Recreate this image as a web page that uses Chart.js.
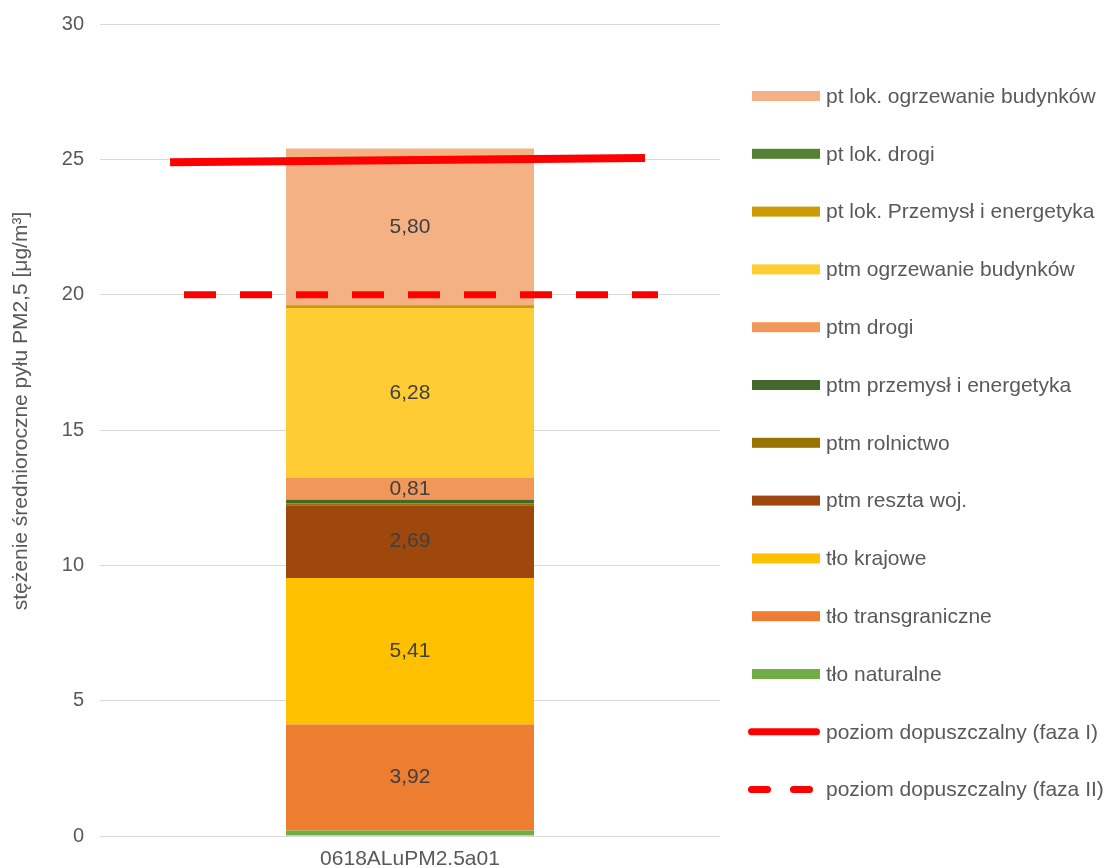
<!DOCTYPE html>
<html>
<head>
<meta charset="utf-8">
<script src="https://cdn.jsdelivr.net/npm/chart.js@4.4.1/dist/chart.umd.min.js"></script>
<style>
html,body{margin:0;padding:0;background:#fff;}
#wrap{width:1110px;height:868px;}
</style>
</head>
<body>
<div id="wrap"><canvas id="c" width="1110" height="868"></canvas></div>
<script>
// ---- data ----
const categories = ['0618ALuPM2.5a01'];
const seriesLabels = [
  'tło naturalne',
  'tło transgraniczne',
  'tło krajowe',
  'ptm reszta woj.',
  'ptm rolnictwo',
  'ptm przemysł i energetyka',
  'ptm drogi',
  'ptm ogrzewanie budynków',
  'pt lok. Przemysł i energetyka',
  'pt lok. drogi',
  'pt lok. ogrzewanie budynków'
];
const seriesValues = [0.20, 3.92, 5.41, 2.69, 0.07, 0.13, 0.81, 6.28, 0.07, 0.02, 5.80];
const seriesColors = ['#70ad47','#ed7d31','#ffc000','#9e480e','#997300','#43682b','#f1975a','#ffcd33','#cc9a06','#548235','#f4b183'];

const limitPhaseILabel = 'poziom dopuszczalny (faza I)';
const limitPhaseIX = [0.113, 0.879];
const limitPhaseIY = [24.89, 25.05];
const limitPhaseIILabel = 'poziom dopuszczalny (faza II)';
const limitPhaseIIX = [0.1355, 0.900];
const limitPhaseIIY = [20, 20];

const yAxisTitle = 'stężenie średnioroczne pyłu PM2,5 [μg/m³]';
const yMin = 0, yMax = 30, yStep = 5;

// ---- build ----
const FONT = '"Liberation Sans", Arial, sans-serif';
const TXT = '#595959';

const datasets = seriesLabels.map((lab, i) => ({
  type: 'bar',
  label: lab,
  data: [seriesValues[i]],
  backgroundColor: seriesColors[i],
  borderWidth: 0,
  order: 1,
  grouped: false,
  categoryPercentage: 1,
  barPercentage: 0.4
}));
datasets.push({
  type: 'line', label: limitPhaseILabel,
  data: limitPhaseIX.map((x, i) => ({x: x, y: limitPhaseIY[i]})),
  xAxisID: 'x2', yAxisID: 'y', stack: 'lineI',
  borderColor: '#ff0000', backgroundColor: '#ff0000', borderWidth: 8,
  pointRadius: 0, fill: false, tension: 0, order: 0, borderCapStyle: 'butt'
});
datasets.push({
  type: 'line', label: limitPhaseIILabel,
  data: limitPhaseIIX.map((x, i) => ({x: x, y: limitPhaseIIY[i]})),
  xAxisID: 'x2', yAxisID: 'y', stack: 'lineII',
  borderColor: '#ff0000', backgroundColor: '#ff0000', borderWidth: 7,
  borderDash: [32, 24], pointRadius: 0, fill: false, tension: 0, order: 0, borderCapStyle: 'butt'
});

const fmt = v => v.toFixed(2).replace('.', ',');

const labelPlugin = {
  id: 'segLabels',
  afterDatasetsDraw(chart) {
    const ctx = chart.ctx;
    ctx.save();
    ctx.font = '21px ' + FONT;
    ctx.fillStyle = '#404040';
    ctx.textAlign = 'center';
    ctx.textBaseline = 'middle';
    chart.data.datasets.forEach((ds, di) => {
      if (ds.type !== 'bar') return;
      const meta = chart.getDatasetMeta(di);
      meta.data.forEach((el, j) => {
        const v = ds.data[j];
        if (v < 0.5) return;
        ctx.fillText(fmt(v), el.x, (el.y + el.base) / 2);
      });
    });
    ctx.restore();
  }
};

const titlePlugin = {
  id: 'yTitle',
  afterDraw(chart) {
    const ctx = chart.ctx;
    ctx.save();
    ctx.font = '21px ' + FONT;
    ctx.fillStyle = TXT;
    ctx.textAlign = 'center';
    ctx.textBaseline = 'middle';
    ctx.translate(21, 411);
    ctx.rotate(-Math.PI / 2);
    ctx.fillText(yAxisTitle, 0, 0);
    ctx.restore();
  }
};

const legendPlugin = {
  id: 'customLegend',
  afterDraw(chart) {
    const ctx = chart.ctx;
    const ds = chart.data.datasets;
    const bars = ds.filter(d => d.type === 'bar').slice().reverse();
    const lines = ds.filter(d => d.type === 'line');
    const items = bars.concat(lines);
    const x0 = chart.chartArea.right + 32;
    const y0 = 96, step = 57.8;
    ctx.save();
    ctx.font = '21px ' + FONT;
    ctx.textBaseline = 'middle';
    ctx.textAlign = 'left';
    items.forEach((d, i) => {
      const y = y0 + i * step;
      if (d.type === 'bar') {
        ctx.fillStyle = d.backgroundColor;
        ctx.fillRect(x0, y - 5, 68, 10);
      } else {
        ctx.strokeStyle = d.borderColor;
        ctx.lineWidth = 7;
        ctx.lineCap = 'round';
        ctx.setLineDash(d.borderDash ? [16, 26] : []);
        ctx.beginPath();
        ctx.moveTo(x0 - 0.5, y);
        ctx.lineTo(x0 + 64.5, y);
        ctx.stroke();
        ctx.setLineDash([]);
      }
      ctx.fillStyle = TXT;
      ctx.fillText(d.label, x0 + 74, y + 1);
    });
    ctx.restore();
  }
};

new Chart(document.getElementById('c'), {
  data: { labels: categories, datasets: datasets },
  options: {
    responsive: false,
    animation: false,
    devicePixelRatio: 1,
    layout: { padding: { top: 24, right: 390, left: 0, bottom: 0 } },
    plugins: { legend: { display: false }, tooltip: { enabled: false } },
    scales: {
      x: {
        type: 'category', stacked: true,
        grid: { display: false, drawTicks: false },
        border: { display: false },
        ticks: { color: TXT, font: { family: FONT, size: 21 }, padding: 11 },
        afterFit(s) { s.height = 32; s.paddingLeft = 0; s.paddingRight = 0; }
      },
      x2: {
        type: 'linear', display: false, min: 0, max: 1, position: 'bottom'
      },
      y: {
        stacked: true, min: yMin, max: yMax,
        ticks: { stepSize: yStep, color: TXT, font: { family: FONT, size: 20 }, padding: 16 },
        grid: { color: '#d9d9d9', lineWidth: 1, drawTicks: false },
        border: { display: false },
        title: { display: false },
        afterFit(s) { s.width = 100; s.paddingTop = 0; s.paddingBottom = 0; }
      }
    }
  },
  plugins: [labelPlugin, titlePlugin, legendPlugin]
});
</script>
</body>
</html>
